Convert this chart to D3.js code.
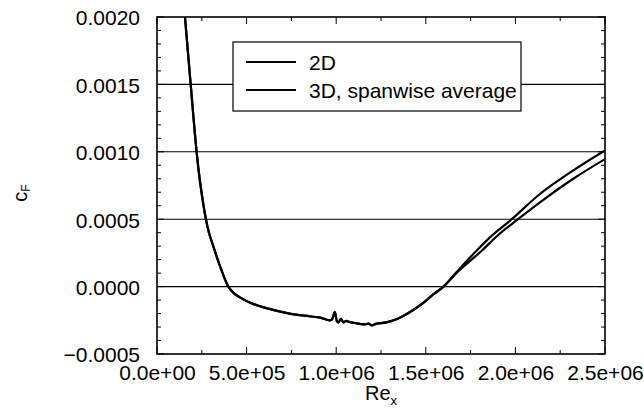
<!DOCTYPE html>
<html>
<head>
<meta charset="utf-8">
<script src="https://cdn.jsdelivr.net/npm/d3@7"></script>
<style>
  html, body { margin: 0; padding: 0; background: #fff; }
  svg { display: block; }
  text { font-family: "Liberation Sans", Arial, Helvetica, sans-serif; fill: #000; }
</style>
</head>
<body>
<svg id="chart" width="644" height="415"></svg>
<script>
// ---- data ----
const seriesNames = ["2D", "3D, spanwise average"];

const re2D = [1.30e5, 1.56e5, 1.88e5, 2.21e5, 2.43e5, 2.73e5, 2.90e5, 3.14e5, 3.52e5, 3.98e5, 4.30e5, 4.63e5,
  5.20e5, 6.10e5, 7.40e5, 8.50e5, 9.10e5, 9.65e5, 9.78e5, 9.92e5, 1.005e6, 1.012e6, 1.027e6, 1.040e6,
  1.055e6, 1.067e6, 1.105e6, 1.160e6, 1.180e6, 1.198e6, 1.226e6, 1.280e6, 1.340e6, 1.410e6, 1.486e6,
  1.540e6, 1.598e6, 1.680e6, 1.780e6, 1.870e6, 1.980e6, 2.137e6, 2.323e6, 2.500e6];
const cf2D = [0.00240, 0.00200, 0.00150, 0.00100, 0.00075, 0.00050, 0.00040, 0.00030, 0.00015, 0.00000, -0.00005, -0.00008,
  -0.00012, -0.00016, -0.00020, -0.00022, -0.00023, -0.00025, -0.00024, -0.00019, -0.00026, -0.000265, -0.00024, -0.000265,
  -0.000255, -0.00026, -0.00027, -0.00028, -0.000275, -0.000287, -0.000275, -0.000265, -0.00024, -0.00019, -0.00012,
  -0.00006, 0.00000, 0.000120, 0.000262, 0.000380, 0.000500, 0.000687, 0.000862, 0.001010];

const re3D = [1.30e5, 1.56e5, 1.88e5, 2.21e5, 2.43e5, 2.73e5, 2.90e5, 3.14e5, 3.52e5, 3.98e5, 4.30e5, 4.63e5,
  5.20e5, 6.10e5, 7.40e5, 8.50e5, 9.10e5, 9.65e5, 9.78e5, 9.92e5, 1.005e6, 1.012e6, 1.027e6, 1.040e6,
  1.055e6, 1.067e6, 1.105e6, 1.160e6, 1.180e6, 1.198e6, 1.226e6, 1.280e6, 1.340e6, 1.410e6, 1.486e6,
  1.540e6, 1.600e6, 1.680e6, 1.812e6, 1.910e6, 2.015e6, 2.137e6, 2.323e6, 2.500e6];
const cf3D = [0.00240, 0.00200, 0.00150, 0.00100, 0.00075, 0.00050, 0.00040, 0.00030, 0.00015, 0.00000, -0.00005, -0.00008,
  -0.00012, -0.00016, -0.00020, -0.00022, -0.00023, -0.00025, -0.00024, -0.00019, -0.00026, -0.000265, -0.00024, -0.000265,
  -0.000255, -0.00026, -0.00027, -0.00028, -0.000275, -0.000287, -0.000275, -0.000265, -0.00024, -0.00019, -0.00012,
  -0.00006, 0.00000, 0.000112, 0.000266, 0.000390, 0.000500, 0.000625, 0.000800, 0.000946];

const xTicks = [0, 5e5, 1e6, 1.5e6, 2e6, 2.5e6];
const xTickLabels = ["0.0e+00", "5.0e+05", "1.0e+06", "1.5e+06", "2.0e+06", "2.5e+06"];
const xMinorTicks = [2.5e5, 7.5e5, 1.25e6, 1.75e6, 2.25e6];
const yTicks = [-0.0005, 0, 0.0005, 0.0010, 0.0015, 0.0020];
const yTickLabels = ["\u22120.0005", "0.0000", "0.0005", "0.0010", "0.0015", "0.0020"];
const yMinorTicks = [-0.0004, -0.0003, -0.0002, -0.0001, 0.0001, 0.0002, 0.0003, 0.0004,
  0.0006, 0.0007, 0.0008, 0.0009, 0.0011, 0.0012, 0.0013, 0.0014, 0.0016, 0.0017, 0.0018, 0.0019];
const gridValues = [0, 0.0005, 0.0010, 0.0015];

// ---- layout ----
const L = 157, R = 605, T = 17, B = 354;
const svg = d3.select("#chart");
const x = d3.scaleLinear().domain([0, 2.5e6]).range([L, R]);
const y = d3.scaleLinear().domain([-0.0005, 0.0020]).range([B, T]);

svg.append("defs").append("clipPath").attr("id", "clip")
  .append("rect").attr("x", L).attr("y", T).attr("width", R - L).attr("height", B - T);

// gridlines
svg.append("g").selectAll("line").data(gridValues).join("line")
  .attr("x1", L).attr("x2", R).attr("y1", d => y(d)).attr("y2", d => y(d))
  .attr("stroke", "#000").attr("stroke-width", 1.1);

// axes with labels
const fontSize = 21;
const gx = svg.append("g").attr("transform", `translate(0,${B})`)
  .call(d3.axisBottom(x).tickValues(xTicks).tickFormat((d, i) => xTickLabels[i]).tickSize(0).tickPadding(11));
const gy = svg.append("g").attr("transform", `translate(${L},0)`)
  .call(d3.axisLeft(y).tickValues(yTicks).tickFormat((d, i) => yTickLabels[i]).tickSize(0).tickPadding(17));
[gx, gy].forEach(g => {
  g.select(".domain").remove();
  g.selectAll("text").attr("font-size", fontSize).attr("font-family", "Liberation Sans, Arial, sans-serif");
});
gy.selectAll("text").attr("dy", "0.38em");

// inward tick marks
const tickG = svg.append("g").attr("stroke", "#000").attr("stroke-width", 1);
[[yTicks, 7], [yMinorTicks, 4]].forEach(([vals, len]) => {
  tickG.append("g").selectAll("line").data(vals).join("line")
    .attr("x1", L).attr("x2", L + len).attr("y1", d => y(d)).attr("y2", d => y(d));
  tickG.append("g").selectAll("line").data(vals).join("line")
    .attr("x1", R).attr("x2", R - len).attr("y1", d => y(d)).attr("y2", d => y(d));
});
[[xTicks, 7], [xMinorTicks, 4]].forEach(([vals, len]) => {
  tickG.append("g").selectAll("line").data(vals).join("line")
    .attr("x1", d => x(d)).attr("x2", d => x(d)).attr("y1", B).attr("y2", B - len);
  tickG.append("g").selectAll("line").data(vals).join("line")
    .attr("x1", d => x(d)).attr("x2", d => x(d)).attr("y1", T).attr("y2", T + len);
});

// frame
svg.append("rect").attr("x", L).attr("y", T).attr("width", R - L).attr("height", B - T)
  .attr("fill", "none").attr("stroke", "#000").attr("stroke-width", 1.6);

// data lines
const line = d3.line().x(d => x(d[0])).y(d => y(d[1])).curve(d3.curveCatmullRom.alpha(0.5));
const series = [
  { name: seriesNames[0], pts: re2D.map((r, i) => [r, cf2D[i]]) },
  { name: seriesNames[1], pts: re3D.map((r, i) => [r, cf3D[i]]) }
];
svg.append("g").attr("clip-path", "url(#clip)").selectAll("path").data(series).join("path")
  .attr("d", d => line(d.pts)).attr("fill", "none").attr("stroke", "#000")
  .attr("stroke-width", 2.2).attr("stroke-linejoin", "round");

// legend
const lg = svg.append("g");
lg.append("rect").attr("x", 233).attr("y", 42).attr("width", 288).attr("height", 69)
  .attr("fill", "#fff").attr("stroke", "#000").attr("stroke-width", 1.2);
series.forEach((s, i) => {
  const yy = 62 + i * 28;
  lg.append("line").attr("x1", 246).attr("x2", 296).attr("y1", yy).attr("y2", yy)
    .attr("stroke", "#000").attr("stroke-width", 2);
  lg.append("text").attr("x", 309).attr("y", yy + 8).attr("font-size", fontSize).text(s.name);
});

// axis titles
const xt = svg.append("text").attr("x", 381).attr("y", 400).attr("text-anchor", "middle").attr("font-size", 20);
xt.append("tspan").text("Re");
xt.append("tspan").attr("font-size", 13).attr("dy", 5).text("x");

const yt = svg.append("text").attr("transform", "translate(27,193) rotate(-90)")
  .attr("text-anchor", "middle").attr("font-size", 20);
yt.append("tspan").text("c");
yt.append("tspan").attr("font-size", 12).attr("dy", 3).text("F");
</script>
</body>
</html>
